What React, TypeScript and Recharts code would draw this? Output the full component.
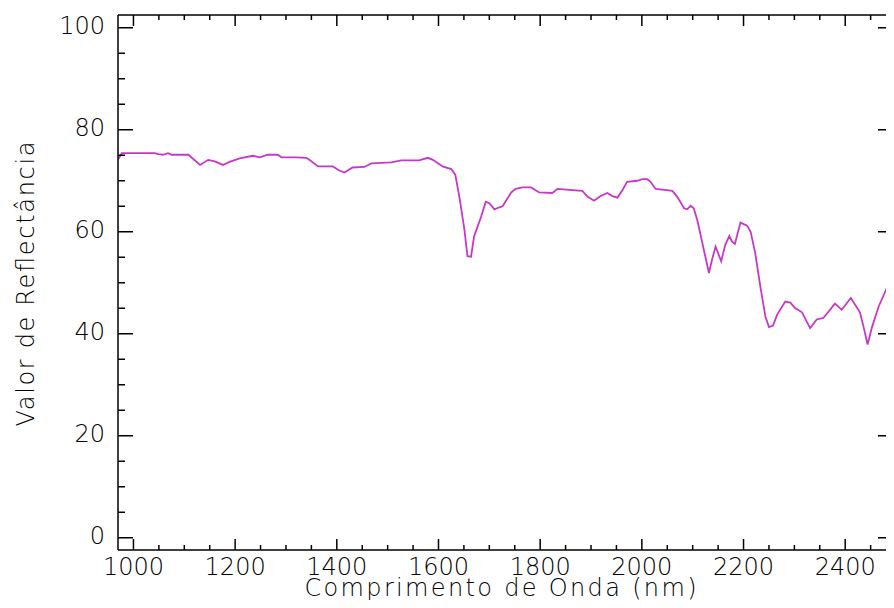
import React from 'react';
import { LineChart, Line, XAxis, YAxis, Label } from 'recharts';

// Spectral reflectance curve (wavelength in nm, reflectance in %)
const wavelengthNm = [
  970, 977, 1042, 1049, 1058, 1068, 1075, 1108, 1131, 1147,
  1160, 1176, 1189, 1209, 1235, 1248, 1264, 1284, 1291, 1320,
  1340, 1346, 1363, 1392, 1405, 1415, 1431, 1454, 1468, 1507,
  1527, 1562, 1579, 1589, 1608, 1625, 1633, 1641, 1651, 1657,
  1664, 1670, 1684, 1693, 1700, 1710, 1720, 1726, 1743, 1752,
  1765, 1782, 1798, 1824, 1834, 1857, 1883, 1893, 1906, 1919,
  1932, 1942, 1952, 1962, 1971, 1991, 2001, 2011, 2017, 2027,
  2044, 2060, 2070, 2083, 2089, 2096, 2102, 2109, 2119, 2132,
  2138, 2145, 2150, 2156, 2164, 2172, 2177, 2183, 2194, 2207,
  2214, 2223, 2233, 2243, 2250, 2258, 2266, 2282, 2292, 2302,
  2315, 2331, 2344, 2357, 2380, 2393, 2411, 2429, 2436, 2444,
  2453, 2466, 2482, 2492,
];

const reflectance = [
  74.2, 75.4, 75.4, 75.2, 75.1, 75.4, 75.1, 75.1, 73.1, 74.1,
  73.8, 73.1, 73.7, 74.4, 74.9, 74.6, 75.1, 75.1, 74.6, 74.6,
  74.5, 74.1, 72.8, 72.8, 72.0, 71.6, 72.6, 72.7, 73.4, 73.6,
  74.0, 74.0, 74.5, 74.1, 72.8, 72.3, 71.2, 66.9, 60.4, 55.2,
  55.1, 59.1, 63.0, 65.9, 65.6, 64.4, 64.8, 65.0, 67.7, 68.4,
  68.7, 68.7, 67.7, 67.6, 68.4, 68.2, 68.0, 66.9, 66.1, 67.0,
  67.6, 67.0, 66.7, 68.2, 69.8, 70.0, 70.3, 70.3, 69.8, 68.4,
  68.2, 68.0, 66.8, 64.6, 64.4, 65.1, 64.6, 62.3, 57.8, 51.9,
  54.5, 57.1, 55.8, 54.2, 57.4, 59.2, 58.1, 57.6, 61.8, 61.2,
  60.0, 55.8, 49.3, 43.4, 41.3, 41.6, 43.7, 46.3, 46.1, 45.0,
  44.2, 41.1, 42.8, 43.1, 45.9, 44.7, 47.0, 44.2, 41.4, 37.9,
  41.4, 45.4, 49.0, 49.8,
];

const xTicks = [
  1000, 1050, 1100, 1150, 1200, 1250, 1300, 1350, 1400, 1450,
  1500, 1550, 1600, 1650, 1700, 1750, 1800, 1850, 1900, 1950,
  2000, 2050, 2100, 2150, 2200, 2250, 2300, 2350, 2400, 2450,
];
const xMajorStep = 200;

const yTicks = [
  0, 5, 10, 15, 20, 25, 30, 35, 40, 45, 50,
  55, 60, 65, 70, 75, 80, 85, 90, 95, 100,
];
const yMajorStep = 20;

const xTitle = 'Comprimento de Onda (nm)';
const yTitle = 'Valor de Reflectância';

const data = wavelengthNm.map((x, i) => ({ x, y: reflectance[i] }));

const FONT = '"DejaVu Sans", "Liberation Sans", sans-serif';
const INK = '#000';
const axisStyle = { stroke: INK, strokeWidth: 1.5 };

// Plot frame: the right edge of the frame sits at the page edge
const CHART_W = 886;
const CHART_H = 592;

function XTick(props: any) {
  const { x, y, payload, side } = props;
  const v = payload.value;
  const major = v % xMajorStep === 0;
  const len = major ? 11 : 5;
  const dir = side === 'bottom' ? -1 : 1;
  return (
    <g>
      <line x1={x} y1={y} x2={x} y2={y + dir * len} stroke={INK} strokeWidth={1.5} />
      {side === 'bottom' && major && (
        <text
          x={x}
          y={y + 24.5}
          textAnchor="middle"
          fontFamily={FONT}
          fontWeight={200}
          fontSize={24}
          fill={INK}
        >
          {v}
        </text>
      )}
    </g>
  );
}

function YTick(props: any) {
  const { x, y, payload, side } = props;
  const v = payload.value;
  const major = v % yMajorStep === 0;
  const len = major ? 15 : 7;
  const dir = side === 'left' ? 1 : -1;
  return (
    <g>
      <line x1={x} y1={y} x2={x + dir * len} y2={y} stroke={INK} strokeWidth={1.5} />
      {side === 'left' && major && (
        <text
          x={x - 13}
          y={y + 6}
          textAnchor="end"
          fontFamily={FONT}
          fontWeight={200}
          fontSize={24}
          fill={INK}
        >
          {v}
        </text>
      )}
    </g>
  );
}

function XTitle(props: any) {
  const vb = props.viewBox || {};
  const cx = vb.x + 382.5;
  return (
    <text
      x={cx}
      y={vb.y + 45.5}
      textAnchor="middle"
      fontFamily={FONT}
      fontWeight={200}
      fontSize={24}
      fill={INK}
      textLength={392}
      lengthAdjust="spacing"
    >
      {xTitle}
    </text>
  );
}

function YTitle(props: any) {
  const vb = props.viewBox || {};
  const bx = 25.5;
  const cy = vb.y + vb.height / 2 + 1.5;
  return (
    <text
      x={bx}
      y={cy}
      transform={`rotate(-90 ${bx} ${cy})`}
      textAnchor="middle"
      fontFamily={FONT}
      fontWeight={200}
      fontSize={24}
      fill={INK}
      textLength={285}
      lengthAdjust="spacing"
    >
      {yTitle}
    </text>
  );
}

export default function App() {
  const xDomain: [number, number] = [969.6, 2494];
  const yDomain: [number, number] = [-2.4, 102.5];
  return (
    <div style={{ width: CHART_W, height: CHART_H, overflow: 'hidden', background: '#fff' }}>
      <LineChart
        width={CHART_W}
        height={CHART_H}
        data={data}
        margin={{ top: 0, right: 0, bottom: 0, left: 0 }}
      >
        <XAxis
          dataKey="x"
          type="number"
          domain={xDomain}
          allowDataOverflow
          ticks={xTicks}
          interval={0}
          height={50}
          tickSize={0}
          tickMargin={0}
          tickLine={false}
          axisLine={axisStyle}
          tick={(p: any) => <XTick {...p} side="bottom" />}
        >
          <Label content={XTitle} />
        </XAxis>
        <XAxis
          xAxisId="top"
          orientation="top"
          dataKey="x"
          type="number"
          domain={xDomain}
          allowDataOverflow
          ticks={xTicks}
          interval={0}
          height={7}
          tickSize={0}
          tickMargin={0}
          tickLine={false}
          axisLine={axisStyle}
          tick={(p: any) => <XTick {...p} side="top" />}
        />
        <YAxis
          type="number"
          domain={yDomain}
          allowDataOverflow
          ticks={yTicks}
          interval={0}
          width={110}
          tickSize={0}
          tickMargin={0}
          tickLine={false}
          axisLine={axisStyle}
          tick={(p: any) => <YTick {...p} side="left" />}
        >
          <Label content={YTitle} />
        </YAxis>
        <YAxis
          yAxisId="right"
          orientation="right"
          type="number"
          domain={yDomain}
          allowDataOverflow
          ticks={yTicks}
          interval={0}
          width={1}
          tickSize={0}
          tickMargin={0}
          tickLine={false}
          axisLine={false}
          tick={(p: any) => <YTick {...p} side="right" />}
        />
        <Line
          type="linear"
          dataKey="y"
          stroke="#c838c8"
          strokeWidth={1.8}
          dot={false}
          activeDot={false}
          isAnimationActive={false}
        />
      </LineChart>
    </div>
  );
}
